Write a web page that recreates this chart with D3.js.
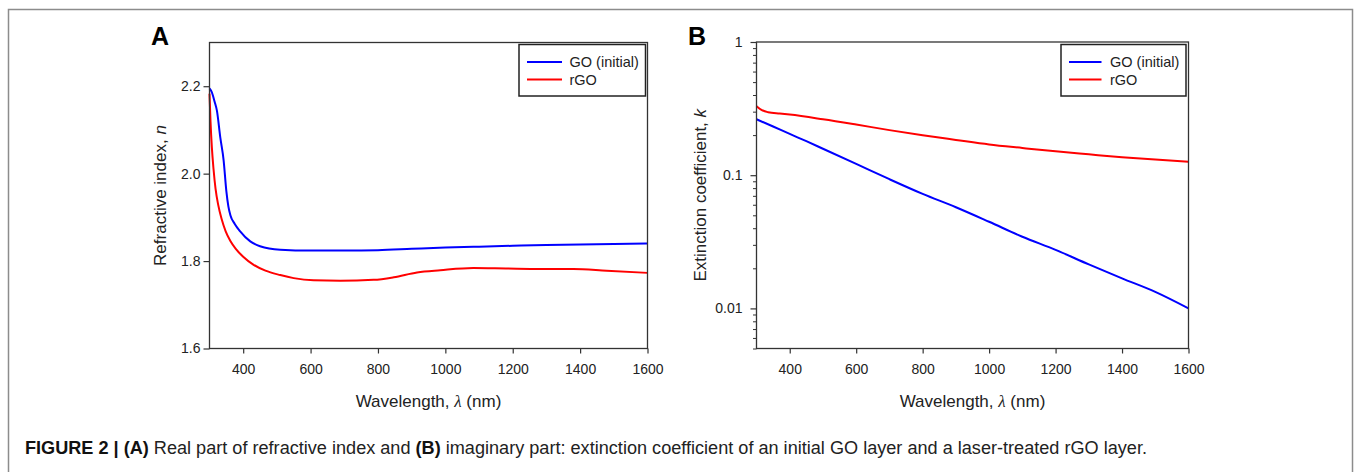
<!DOCTYPE html>
<html><head><meta charset="utf-8">
<script src="https://cdn.jsdelivr.net/npm/d3@7"></script>
<style>
body{margin:0;background:#fff;}
svg{display:block;font-family:"Liberation Sans",Arial,Helvetica,sans-serif;}
</style>
</head><body>
<svg id="c" width="1354" height="472"></svg>
<script>
// ---- Panel A data: refractive index n ----
const wlA_GO = [300, 307, 315, 322, 332, 342, 350, 356, 362, 375, 391, 421, 450, 510, 600, 700, 800, 900, 1000, 1100, 1200, 1300, 1400, 1500, 1600];
const nA_GO  = [2.195, 2.186, 2.165, 2.144, 2.083, 2.03, 1.96, 1.925, 1.905, 1.885, 1.868, 1.845, 1.834, 1.826, 1.824, 1.824, 1.825, 1.828, 1.831, 1.833, 1.835, 1.837, 1.838, 1.839, 1.840];
const wlA_rGO = [300, 303, 307, 312, 318, 326, 336, 348, 362, 378, 400, 430, 466, 510, 550, 609, 688, 787, 847, 916, 985, 1083, 1180, 1281, 1380, 1479, 1600];
const nA_rGO  = [2.183, 2.12, 2.06, 2.01, 1.965, 1.928, 1.896, 1.868, 1.846, 1.828, 1.810, 1.792, 1.778, 1.768, 1.761, 1.756, 1.755, 1.757, 1.763, 1.774, 1.779, 1.784, 1.783, 1.782, 1.782, 1.778, 1.773];

// ---- Panel B data: extinction coefficient k ----
const wlB_GO = [300, 350, 400, 450, 500, 600, 700, 800, 900, 1000, 1100, 1200, 1300, 1400, 1500, 1600];
const kB_GO  = [0.263, 0.232, 0.204, 0.180, 0.158, 0.1216, 0.0933, 0.0724, 0.0575, 0.0447, 0.0345, 0.0275, 0.0214, 0.0168, 0.0133, 0.0100];
const wlB_rGO = [300, 315, 335, 370, 400, 500, 600, 700, 800, 900, 1000, 1100, 1200, 1300, 1400, 1500, 1600];
const kB_rGO  = [0.330, 0.309, 0.297, 0.290, 0.285, 0.263, 0.240, 0.218, 0.1995, 0.184, 0.170, 0.160, 0.151, 0.1435, 0.1365, 0.131, 0.126];

// ---- ticks / labels ----
const xTicks = [400, 600, 800, 1000, 1200, 1400, 1600];
const yTicksA = [1.6, 1.8, 2.0, 2.2];
const yTicksB = [0.01, 0.1, 1];
const yTickLabelsB = ["0.01", "0.1", "1"];
const seriesNames = ["GO (initial)", "rGO"];
const seriesColors = ["#0000ff", "#ff0000"];

const svg = d3.select("#c");

// outer figure border
svg.append("rect").attr("x", 8.5).attr("y", 9.5).attr("width", 1344).attr("height", 480)
  .attr("fill", "none").attr("stroke", "#8c8c8c").attr("stroke-width", 1.5);

function panel(opts) {
  const g = svg.append("g").attr("transform", `translate(${opts.left},${opts.top})`);
  const W = opts.width, H = opts.height;
  const x = d3.scaleLinear().domain([300, 1600]).range([0, W]);
  const y = opts.y.range([H, 0]);

  const xa = g.append("g").attr("transform", `translate(0,${H})`)
    .call(d3.axisBottom(x).tickValues(xTicks).tickSize(5).tickPadding(11).tickFormat(d3.format("d")));
  xa.select(".domain").remove();
  xa.selectAll("line").attr("stroke", "#333").attr("stroke-width", 1.2);
  xa.selectAll("text").attr("font-size", 14).attr("fill", "#222").attr("font-family", null);

  if (opts.minor) {
    const ym = g.append("g").call(d3.axisLeft(y).tickValues(opts.minor).tickSize(3.5).tickFormat(""));
    ym.select(".domain").remove();
    ym.selectAll("line").attr("stroke", "#333").attr("stroke-width", 1);
  }
  const ya = g.append("g").call(d3.axisLeft(y).tickValues(opts.yTicks).tickSize(6).tickPadding(opts.yPad)
    .tickFormat((d, i) => opts.yLabels[i]));
  ya.select(".domain").remove();
  ya.selectAll("line").attr("stroke", "#333").attr("stroke-width", 1.2);
  ya.selectAll("text").attr("font-size", 14).attr("fill", "#222").attr("font-family", null);

  const line = d3.line().x(d => x(d[0])).y(d => y(d[1])).curve(d3.curveMonotoneX);
  opts.series.forEach((s, i) => {
    g.append("path").datum(d3.zip(s.wl, s.v))
      .attr("d", line).attr("fill", "none").attr("stroke", seriesColors[i])
      .attr("stroke-width", 2).attr("stroke-linejoin", "round");
  });

  g.append("rect").attr("x", 0).attr("y", 0).attr("width", W).attr("height", H)
    .attr("fill", "none").attr("stroke", "#333").attr("stroke-width", 1.3);

  const L = opts.legend;
  g.append("rect").attr("x", L.x).attr("y", L.y).attr("width", L.w).attr("height", L.h)
    .attr("fill", "#fff").attr("stroke", "#222").attr("stroke-width", 1.5);
  seriesNames.forEach((nm, i) => {
    const yy = L.y + 17.5 + i * 17.6;
    g.append("line").attr("x1", L.x + L.lx0).attr("x2", L.x + L.lx1).attr("y1", yy).attr("y2", yy)
      .attr("stroke", seriesColors[i]).attr("stroke-width", 2);
    g.append("text").attr("x", L.x + L.tx).attr("y", yy + 5).attr("font-size", 14.5)
      .attr("fill", "#222").text(nm);
  });

  const xt = g.append("text").attr("x", W / 2).attr("y", H + 58).attr("text-anchor", "middle")
    .attr("font-size", 17).attr("fill", "#222");
  xt.append("tspan").text("Wavelength, ");
  xt.append("tspan").attr("font-family", "'Liberation Serif','DejaVu Serif',serif").attr("font-style", "italic").text("λ");
  xt.append("tspan").text(" (nm)");

  const yt = g.append("text").attr("transform", `translate(${opts.yTitleX},${H / 2}) rotate(-90)`)
    .attr("text-anchor", "middle").attr("font-size", 17).attr("fill", "#222");
  yt.append("tspan").text(opts.yTitle);
  yt.append("tspan").attr("font-style", "italic").text(opts.yVar);

  svg.append("text").attr("x", opts.letterX).attr("y", 45).attr("font-size", 25)
    .attr("font-weight", "bold").attr("fill", "#000").text(opts.letter);
}

panel({
  left: 209.5, top: 42.5, width: 438, height: 306,
  y: d3.scaleLinear().domain([1.6, 2.3]),
  yTicks: yTicksA, yLabels: yTicksA.map(d3.format(".1f")), yPad: 3,
  series: [{wl: wlA_GO, v: nA_GO}, {wl: wlA_rGO, v: nA_rGO}],
  legend: {x: 309.5, y: 2, w: 126.5, h: 51.5, lx0: 8, lx1: 43, tx: 50.5},
  yTitleX: -44, yTitle: "Refractive index, ", yVar: "n",
  letter: "A", letterX: 151
});

const yB = d3.scaleLog().domain([0.005, 1]);
panel({
  left: 756.5, top: 42, width: 432, height: 306.5,
  y: yB,
  yTicks: yTicksB, yLabels: yTickLabelsB, yPad: 8,
  minor: yB.ticks().filter(t => !yTicksB.some(m => Math.abs(m - t) < 1e-9)),
  series: [{wl: wlB_GO, v: kB_GO}, {wl: wlB_rGO, v: kB_rGO}],
  legend: {x: 304.5, y: 2.5, w: 125, h: 51.5, lx0: 8, lx1: 40.5, tx: 49},
  yTitleX: -50.5, yTitle: "Extinction coefficient, ", yVar: "k",
  letter: "B", letterX: 688
});

// caption
const cap = svg.append("text").attr("x", 25).attr("y", 454).attr("font-size", 17).attr("fill", "#222");
const parts = [
  ["FIGURE 2 | ", true], ["(A)", true], [" Real part of refractive index and ", false], ["(B)", true],
  [" imaginary part: extinction coefficient of an initial GO layer and a laser-treated rGO layer.", false]
];
parts.forEach(p => cap.append("tspan").attr("font-weight", p[1] ? "bold" : null).attr("fill", p[1] ? "#111" : "#222").text(p[0]));
const len0 = cap.node().getComputedTextLength();
cap.attr("font-size", (17 * 1122 / len0).toFixed(2));
</script>
</body></html>
